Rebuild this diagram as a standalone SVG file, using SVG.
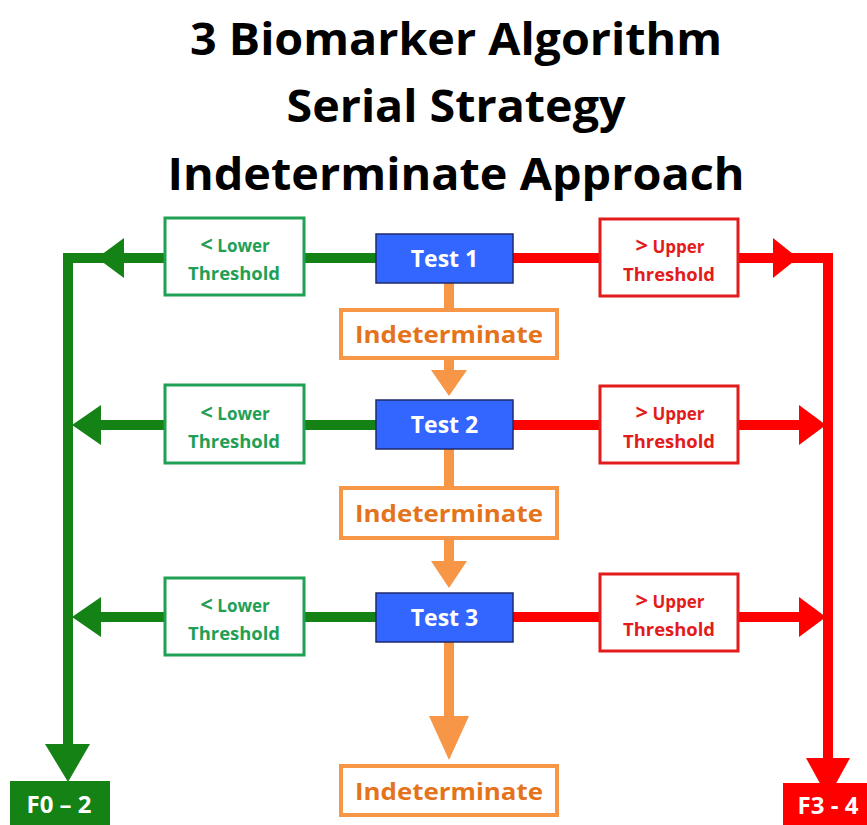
<svg xmlns="http://www.w3.org/2000/svg" width="867" height="825" viewBox="0 0 867 825">
<style>
text{font-family:"Open Sans","Noto Sans","Liberation Sans",sans-serif;font-weight:bold;text-anchor:middle}
.title{font-size:44px;fill:#000}
.test rect{fill:#3366ff;stroke:#1f2a6b;stroke-width:1.5}
.test text{font-size:23px;fill:#fff}
.ind rect{fill:#fff;stroke:#f79646;stroke-width:4}
.ind text{font-size:24px;fill:#e4731a}
.low rect{fill:#fff;stroke:#1fa055;stroke-width:3}
.low text{font-size:17px;fill:#1fa055}
.up rect{fill:#fff;stroke:#e31b1b;stroke-width:3}
.up text{font-size:17px;fill:#e31b1b}
.sym{font-size:22px}
.g{stroke:#148214;stroke-width:10;fill:none}
.gf{fill:#148214}
.r{stroke:#ff0000;stroke-width:10;fill:none}
.rf{fill:#ff0000}
.o{stroke:#f79646;stroke-width:10;fill:none}
.of{fill:#f79646}
</style>
<g id="title">
<text class="title" x="456" y="55" textLength="532" lengthAdjust="spacingAndGlyphs">3 Biomarker Algorithm</text>
<text class="title" x="456" y="122" textLength="339" lengthAdjust="spacingAndGlyphs">Serial Strategy</text>
<text class="title" x="456" y="190" textLength="577" lengthAdjust="spacingAndGlyphs">Indeterminate Approach</text>
</g>
<g id="connectors">
<polyline class="g" points="376,258 68,258 68,748"/>
<polygon class="gf" points="97,258 124,238 124,278"/>
<line class="g" x1="376" y1="425" x2="100" y2="425"/>
<polygon class="gf" points="72,425 101,405 101,445"/>
<line class="g" x1="376" y1="617" x2="100" y2="617"/>
<polygon class="gf" points="72,617 101,597 101,637"/>
<polygon class="gf" points="45,744 90,744 68,782"/>
<polyline class="r" points="513,258 828,258 828,762"/>
<polygon class="rf" points="798,258 773,238 773,278"/>
<line class="r" x1="513" y1="425" x2="800" y2="425"/>
<polygon class="rf" points="826,425 799,405 799,445"/>
<line class="r" x1="513" y1="617" x2="800" y2="617"/>
<polygon class="rf" points="826,617 799,597 799,637"/>
<polygon class="rf" points="806,758 850,758 828,798"/>
<line class="o" x1="449" y1="283" x2="449" y2="310"/>
<line class="o" x1="449" y1="358" x2="449" y2="372"/>
<polygon class="of" points="431,370 467,370 449,396"/>
<line class="o" x1="449" y1="449" x2="449" y2="487"/>
<line class="o" x1="449" y1="538" x2="449" y2="563"/>
<polygon class="of" points="431,561 467,561 449,588"/>
<line class="o" x1="449" y1="642" x2="449" y2="718"/>
<polygon class="of" points="429,716 469,716 449,760"/>
</g>
<g id="test1" class="test"><rect x="376" y="234" width="137" height="49"/><text x="444.500" y="267">Test 1</text></g>
<g id="test2" class="test"><rect x="376" y="400" width="137" height="49"/><text x="444.500" y="433">Test 2</text></g>
<g id="test3" class="test"><rect x="376" y="593" width="137" height="49"/><text x="444.500" y="626">Test 3</text></g>
<g id="ind1" class="ind"><rect x="341" y="310" width="216" height="48"/><text x="449" y="343" textLength="188" lengthAdjust="spacingAndGlyphs">Indeterminate</text></g>
<g id="ind2" class="ind"><rect x="341" y="488" width="216" height="50"/><text x="449" y="522" textLength="188" lengthAdjust="spacingAndGlyphs">Indeterminate</text></g>
<g id="ind3" class="ind"><rect x="341" y="766" width="216" height="49"/><text x="449" y="800" textLength="188" lengthAdjust="spacingAndGlyphs">Indeterminate</text></g>
<g id="low1" class="low"><rect x="165" y="218" width="139" height="77"/><text x="235" y="252"><tspan class="sym">&lt;</tspan> Lower</text><text x="234" y="280" textLength="92" lengthAdjust="spacingAndGlyphs">Threshold</text></g>
<g id="low2" class="low"><rect x="165" y="385" width="139" height="78"/><text x="235" y="420"><tspan class="sym">&lt;</tspan> Lower</text><text x="234" y="448" textLength="92" lengthAdjust="spacingAndGlyphs">Threshold</text></g>
<g id="low3" class="low"><rect x="165" y="578" width="139" height="77"/><text x="235" y="612"><tspan class="sym">&lt;</tspan> Lower</text><text x="234" y="640" textLength="92" lengthAdjust="spacingAndGlyphs">Threshold</text></g>
<g id="up1" class="up"><rect x="600" y="219" width="138" height="77"/><text x="670" y="253"><tspan class="sym">&gt;</tspan> Upper</text><text x="669" y="281" textLength="92" lengthAdjust="spacingAndGlyphs">Threshold</text></g>
<g id="up2" class="up"><rect x="600" y="386" width="138" height="77"/><text x="670" y="420"><tspan class="sym">&gt;</tspan> Upper</text><text x="669" y="448" textLength="92" lengthAdjust="spacingAndGlyphs">Threshold</text></g>
<g id="up3" class="up"><rect x="600" y="574" width="138" height="77"/><text x="670" y="608"><tspan class="sym">&gt;</tspan> Upper</text><text x="669" y="636" textLength="92" lengthAdjust="spacingAndGlyphs">Threshold</text></g>
<g id="f02"><rect x="10" y="781" width="100" height="44" fill="#148214"/><text x="59" y="813" font-size="24" fill="#fff">F0 – 2</text></g>
<g id="f34"><rect x="783" y="783" width="84" height="42" fill="#ff0000"/><text x="828" y="814" font-size="24" fill="#fff">F3 - 4</text></g>
</svg>
